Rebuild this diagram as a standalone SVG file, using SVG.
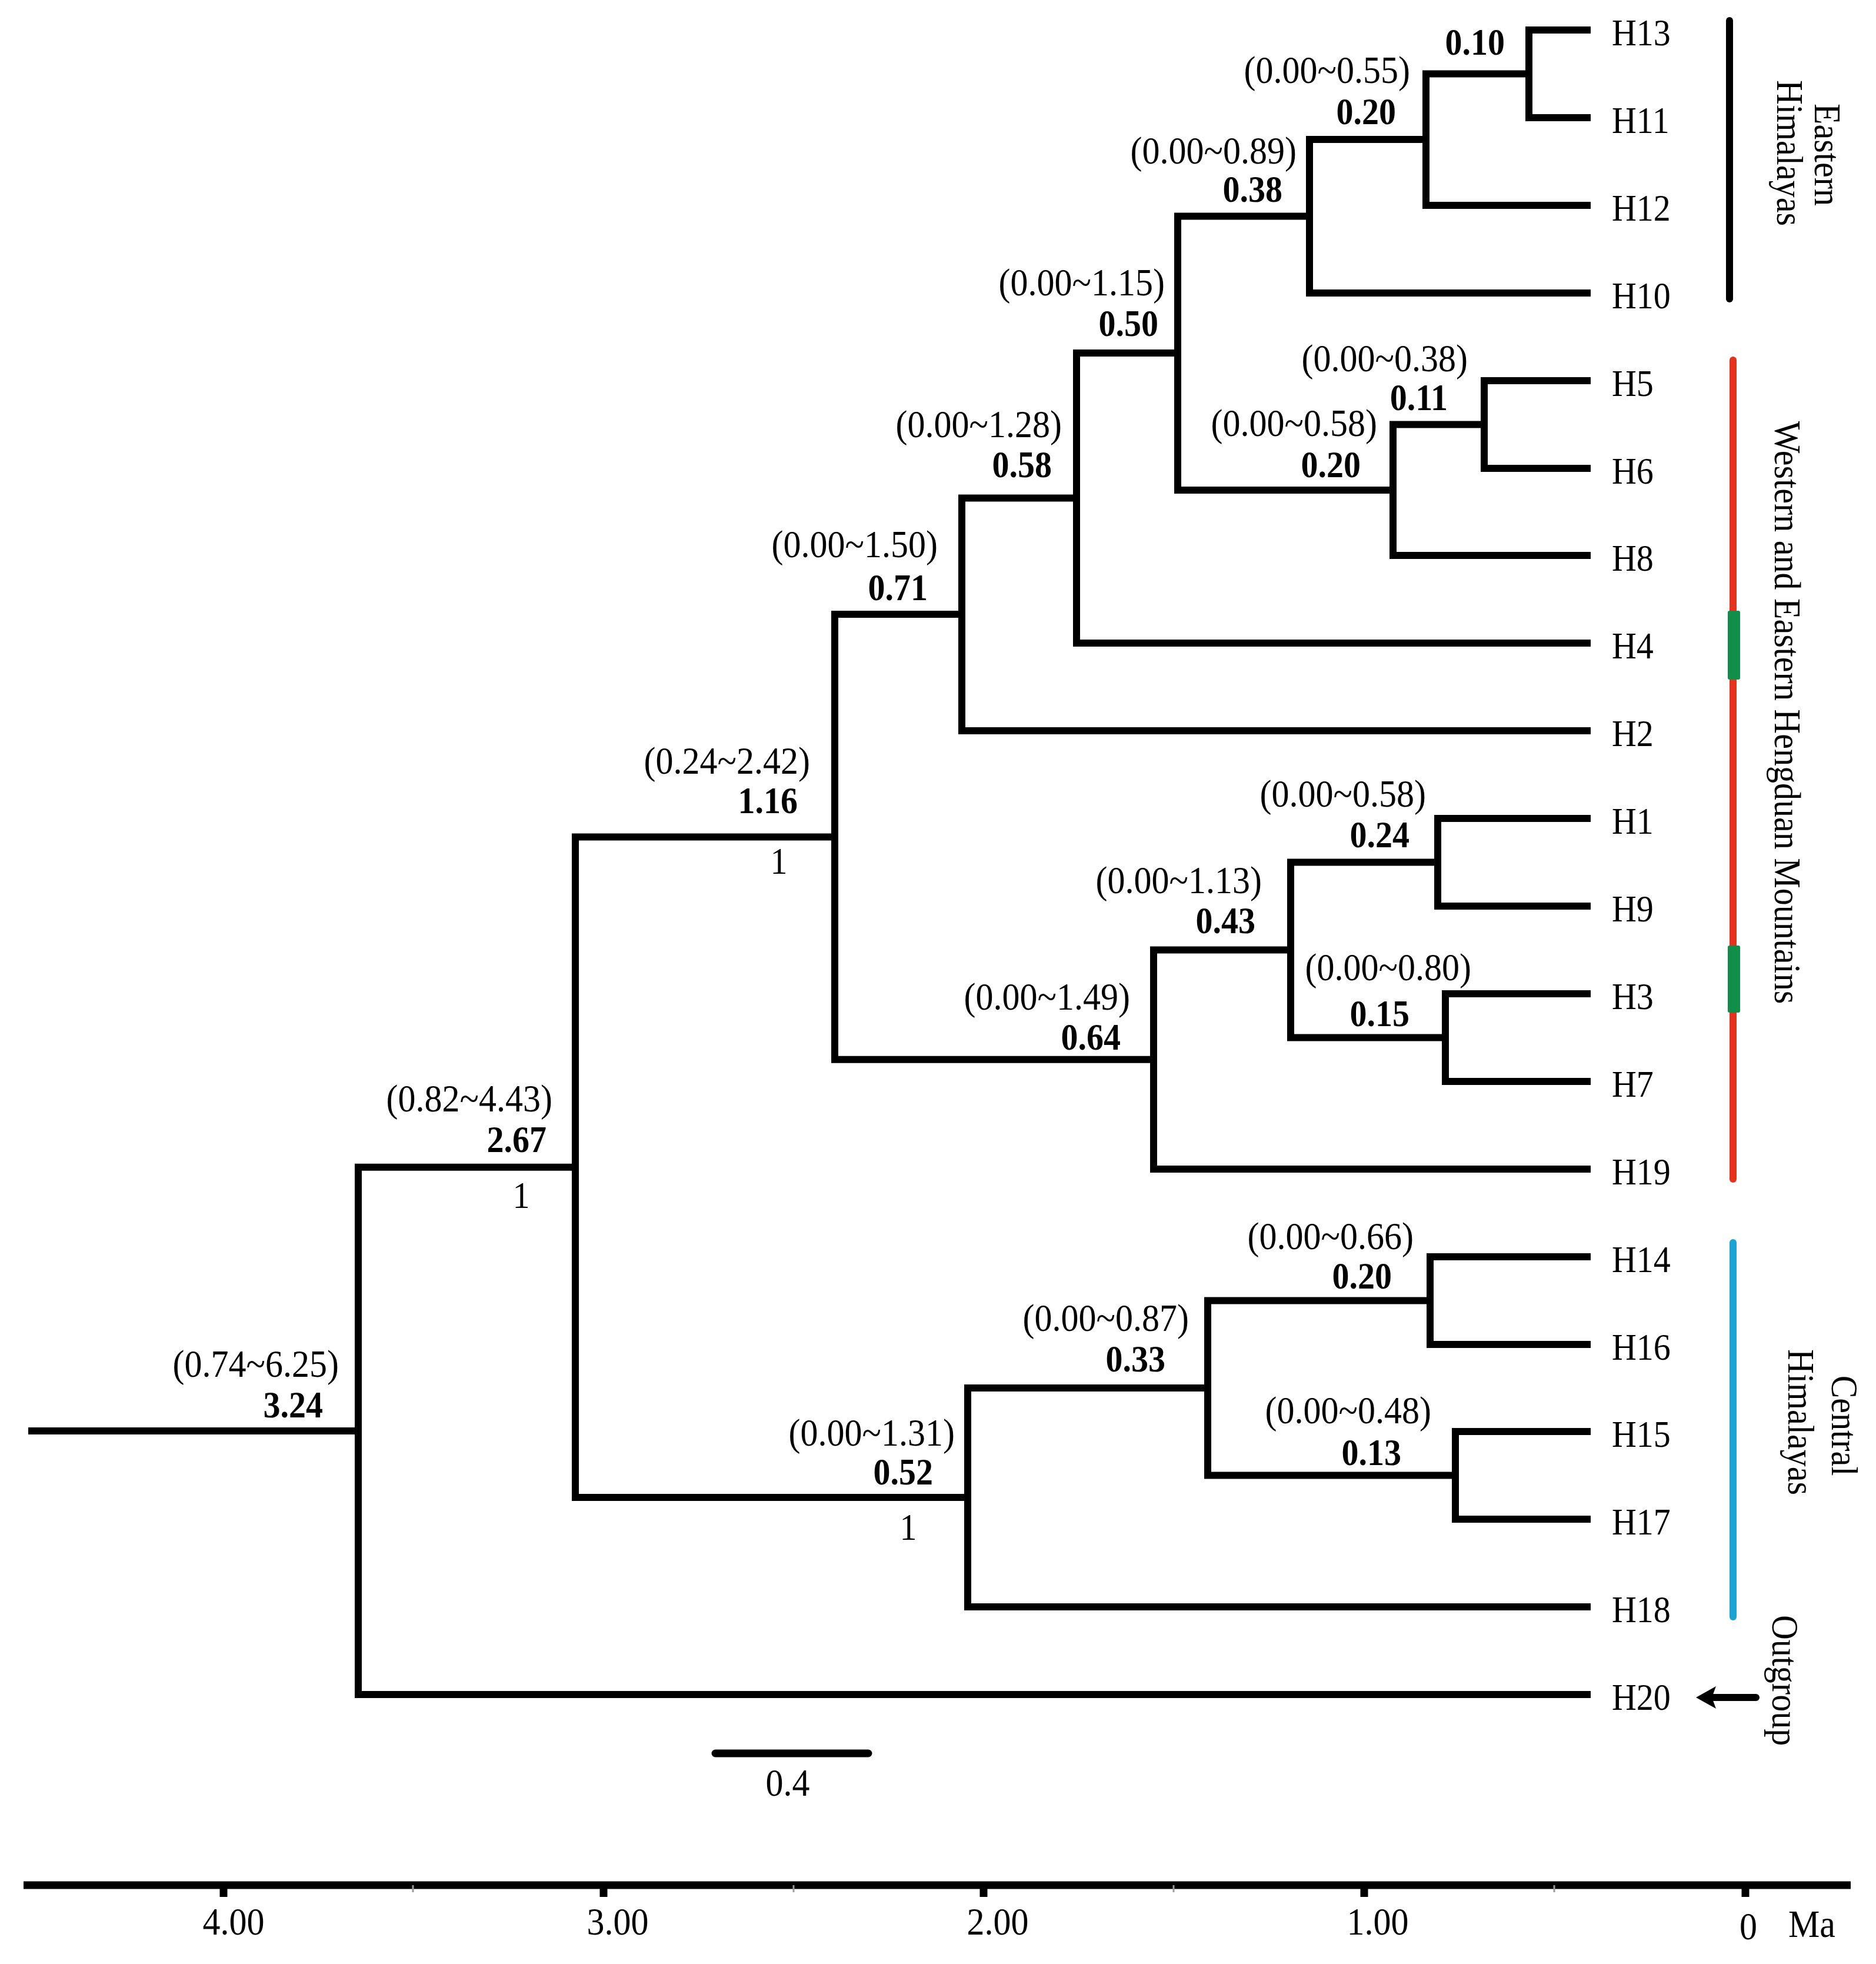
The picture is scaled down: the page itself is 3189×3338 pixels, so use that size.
<svg xmlns="http://www.w3.org/2000/svg" width="3189" height="3338" viewBox="0 0 3189 3338">
<style>
text{font-family:"Liberation Serif","Times New Roman",serif;fill:#000}
.ci{font-size:60px;text-anchor:end}
.age{font-size:58px;font-weight:bold;text-anchor:end}
.pp{font-size:58px;text-anchor:middle}
.leaf{font-size:58px}
.reg{font-size:58px;text-anchor:middle}
.ax{font-size:60px;text-anchor:middle}
.br{fill:none;stroke:#000;stroke-width:12;stroke-linecap:square;stroke-linejoin:miter}
.bar{fill:none;stroke-width:12;stroke-linecap:round}
</style>
<rect width="3189" height="3338" fill="#fff"/>
<g id="connectors" class="br">
<path d="M54 2432H609M609 1983.7V2880M609 1983.7H978M609 2880H2698"/>
<path d="M978 1422.4V2545M978 1422.4H1419M978 2545H1645"/>
<path d="M1419 1044V1800.75M1419 1044H1635M1419 1800.75H1961"/>
<path d="M1635 846.5V1242M1635 846.5H1830M1635 1242H2698"/>
<path d="M1830 600V1093M1830 600H2002M1830 1093H2698"/>
<path d="M2002 367.5V833M2002 367.5H2226M2002 833H2368"/>
<path d="M2226 237V498M2226 237H2424M2226 498H2698"/>
<path d="M2424 125.5V349M2424 125.5H2599M2424 349H2698"/>
<path d="M2599 51V200M2599 51H2698M2599 200H2698"/>
<path d="M2368 721.5V944M2368 721.5H2523M2368 944H2698"/>
<path d="M2523 647V796M2523 647H2698M2523 796H2698"/>
<path d="M1961 1614.5V1987M1961 1614.5H2194M1961 1987H2698"/>
<path d="M2194 1465.5V1763.5M2194 1465.5H2444M2194 1763.5H2457"/>
<path d="M2444 1391V1540M2444 1391H2698M2444 1540H2698"/>
<path d="M2457 1689V1838M2457 1689H2698M2457 1838H2698"/>
<path d="M1645 2359V2731M1645 2359H2053M1645 2731H2698"/>
<path d="M2053 2210.5V2507.5M2053 2210.5H2431M2053 2507.5H2474"/>
<path d="M2431 2136V2285M2431 2136H2698M2431 2285H2698"/>
<path d="M2474 2433V2582M2474 2433H2698M2474 2582H2698"/>
</g>
<g id="leaves">
<g id="H13"><text class="leaf" transform="translate(2740 77) scale(1 1.1)">H13</text></g>
<g id="H11"><text class="leaf" transform="translate(2740 226) scale(1 1.1)">H11</text></g>
<g id="H12"><text class="leaf" transform="translate(2740 375) scale(1 1.1)">H12</text></g>
<g id="H10"><text class="leaf" transform="translate(2740 524) scale(1 1.1)">H10</text></g>
<g id="H5"><text class="leaf" transform="translate(2740 673) scale(1 1.1)">H5</text></g>
<g id="H6"><text class="leaf" transform="translate(2740 822) scale(1 1.1)">H6</text></g>
<g id="H8"><text class="leaf" transform="translate(2740 970) scale(1 1.1)">H8</text></g>
<g id="H4"><text class="leaf" transform="translate(2740 1119) scale(1 1.1)">H4</text></g>
<g id="H2"><text class="leaf" transform="translate(2740 1268) scale(1 1.1)">H2</text></g>
<g id="H1"><text class="leaf" transform="translate(2740 1417) scale(1 1.1)">H1</text></g>
<g id="H9"><text class="leaf" transform="translate(2740 1566) scale(1 1.1)">H9</text></g>
<g id="H3"><text class="leaf" transform="translate(2740 1715) scale(1 1.1)">H3</text></g>
<g id="H7"><text class="leaf" transform="translate(2740 1864) scale(1 1.1)">H7</text></g>
<g id="H19"><text class="leaf" transform="translate(2740 2013) scale(1 1.1)">H19</text></g>
<g id="H14"><text class="leaf" transform="translate(2740 2162) scale(1 1.1)">H14</text></g>
<g id="H16"><text class="leaf" transform="translate(2740 2311) scale(1 1.1)">H16</text></g>
<g id="H15"><text class="leaf" transform="translate(2740 2459) scale(1 1.1)">H15</text></g>
<g id="H17"><text class="leaf" transform="translate(2740 2608) scale(1 1.1)">H17</text></g>
<g id="H18"><text class="leaf" transform="translate(2740 2757) scale(1 1.1)">H18</text></g>
<g id="H20"><text class="leaf" transform="translate(2740 2906) scale(1 1.1)">H20</text></g>
</g>
<g id="node-labels">
<g id="n010"><text class="age" transform="translate(2558 93) scale(1 1.1)">0.10</text></g>
<g id="n020a"><text class="ci" transform="translate(2397 141) scale(1 1.1)">(0.00~0.55)</text><text class="age" transform="translate(2373 211) scale(1 1.1)">0.20</text></g>
<g id="n038"><text class="ci" transform="translate(2204 278) scale(1 1.1)">(0.00~0.89)</text><text class="age" transform="translate(2180 343) scale(1 1.1)">0.38</text></g>
<g id="n050"><text class="ci" transform="translate(1980 502) scale(1 1.1)">(0.00~1.15)</text><text class="age" transform="translate(1969 571) scale(1 1.1)">0.50</text></g>
<g id="n011"><text class="ci" transform="translate(2495 631) scale(1 1.1)">(0.00~0.38)</text><text class="age" transform="translate(2461 697) scale(1 1.1)">0.11</text></g>
<g id="n020b"><text class="ci" transform="translate(2341 741) scale(1 1.1)">(0.00~0.58)</text><text class="age" transform="translate(2313 811) scale(1 1.1)">0.20</text></g>
<g id="n058"><text class="ci" transform="translate(1805 743) scale(1 1.1)">(0.00~1.28)</text><text class="age" transform="translate(1788 811) scale(1 1.1)">0.58</text></g>
<g id="n071"><text class="ci" transform="translate(1594 947) scale(1 1.1)">(0.00~1.50)</text><text class="age" transform="translate(1577 1020) scale(1 1.1)">0.71</text></g>
<g id="n116"><text class="ci" transform="translate(1377 1315) scale(1 1.1)">(0.24~2.42)</text><text class="age" transform="translate(1356 1382) scale(1 1.1)">1.16</text><text class="pp" transform="translate(1324 1485) scale(1 1.1)">1</text></g>
<g id="n024"><text class="ci" transform="translate(2424 1371) scale(1 1.1)">(0.00~0.58)</text><text class="age" transform="translate(2396 1440) scale(1 1.1)">0.24</text></g>
<g id="n043"><text class="ci" transform="translate(2145 1518) scale(1 1.1)">(0.00~1.13)</text><text class="age" transform="translate(2134 1586) scale(1 1.1)">0.43</text></g>
<g id="n015"><text class="ci" transform="translate(2501 1666) scale(1 1.1)">(0.00~0.80)</text><text class="age" transform="translate(2396 1744) scale(1 1.1)">0.15</text></g>
<g id="n064"><text class="ci" transform="translate(1921 1716) scale(1 1.1)">(0.00~1.49)</text><text class="age" transform="translate(1905 1784) scale(1 1.1)">0.64</text></g>
<g id="n267"><text class="ci" transform="translate(939 1889) scale(1 1.1)">(0.82~4.43)</text><text class="age" transform="translate(929 1958) scale(1 1.1)">2.67</text><text class="pp" transform="translate(886 2053) scale(1 1.1)">1</text></g>
<g id="n020c"><text class="ci" transform="translate(2403 2123) scale(1 1.1)">(0.00~0.66)</text><text class="age" transform="translate(2366 2190) scale(1 1.1)">0.20</text></g>
<g id="n033"><text class="ci" transform="translate(2021 2262) scale(1 1.1)">(0.00~0.87)</text><text class="age" transform="translate(1981 2331) scale(1 1.1)">0.33</text></g>
<g id="n013"><text class="ci" transform="translate(2433 2419) scale(1 1.1)">(0.00~0.48)</text><text class="age" transform="translate(2382 2490) scale(1 1.1)">0.13</text></g>
<g id="n052"><text class="ci" transform="translate(1623 2457) scale(1 1.1)">(0.00~1.31)</text><text class="age" transform="translate(1586 2523) scale(1 1.1)">0.52</text><text class="pp" transform="translate(1544 2617) scale(1 1.1)">1</text></g>
<g id="n324"><text class="ci" transform="translate(576 2340) scale(1 1.1)">(0.74~6.25)</text><text class="age" transform="translate(549 2409) scale(1 1.1)">3.24</text></g>
</g>
<g id="region-eastern-himalayas">
<line class="bar" x1="2940" y1="35" x2="2940" y2="508" stroke="#000"/>
<text class="reg" transform="translate(3085 263) rotate(90) scale(1 1.1)">Eastern</text>
<text class="reg" transform="translate(3021 260) rotate(90) scale(1 1.1)">Himalayas</text>
</g>
<g id="region-hengduan">
<line x1="2946" y1="612" x2="2946" y2="2004" stroke="#e4321f" stroke-width="12" stroke-linecap="round"/>
<rect x="2937" y="1038" width="21" height="117" rx="3" fill="#0f8f47"/>
<rect x="2937" y="1607" width="21" height="114" rx="3" fill="#0f8f47"/>
<text class="reg" transform="translate(3017 1211) rotate(90) scale(1 1.1)">Western and Eastern Hengduan Mountains</text>
</g>
<g id="region-central-himalayas">
<line x1="2946" y1="2112" x2="2946" y2="2748" stroke="#1aa3d4" stroke-width="12" stroke-linecap="round"/>
<text class="reg" transform="translate(3114 2423) rotate(90) scale(1 1.1)">Central</text>
<text class="reg" transform="translate(3040 2417) rotate(90) scale(1 1.1)">Himalayas</text>
</g>
<g id="outgroup">
<line x1="2912" y1="2885" x2="2985" y2="2885" stroke="#000" stroke-width="12" stroke-linecap="round"/>
<polygon points="2883,2885 2917,2866 2910,2885 2917,2904" fill="#000"/>
<text class="reg" transform="translate(3013 2856) rotate(90) scale(1 1.1)">Outgroup</text>
</g>
<g id="scale-bar">
<line x1="1216" y1="2980" x2="1476" y2="2980" stroke="#000" stroke-width="13" stroke-linecap="round"/>
<text class="ax" transform="translate(1339 3052) scale(1 1.1)">0.4</text>
</g>
<g id="time-axis">
<line x1="40" y1="3204" x2="3146" y2="3204" stroke="#000" stroke-width="13"/>
<g stroke="#000" stroke-width="13">
<line x1="380" y1="3204" x2="380" y2="3224"/>
<line x1="1026" y1="3204" x2="1026" y2="3224"/>
<line x1="1672" y1="3204" x2="1672" y2="3224"/>
<line x1="2319" y1="3204" x2="2319" y2="3224"/>
<line x1="2967" y1="3204" x2="2967" y2="3224"/>
</g>
<g stroke="#999" stroke-width="3">
<line x1="702" y1="3204" x2="702" y2="3216"/>
<line x1="1349" y1="3204" x2="1349" y2="3216"/>
<line x1="1995" y1="3204" x2="1995" y2="3216"/>
<line x1="2642" y1="3204" x2="2642" y2="3216"/>
</g>
<text class="ax" transform="translate(397 3288) scale(1 1.1)">4.00</text>
<text class="ax" transform="translate(1050 3288) scale(1 1.1)">3.00</text>
<text class="ax" transform="translate(1696 3288) scale(1 1.1)">2.00</text>
<text class="ax" transform="translate(2342 3288) scale(1 1.1)">1.00</text>
<text class="ax" transform="translate(2972 3296) scale(1 1.1)">0</text>
<text class="ax" style="text-anchor:start" transform="translate(3040 3292) scale(1 1.1)">Ma</text>
</g>
</svg>
